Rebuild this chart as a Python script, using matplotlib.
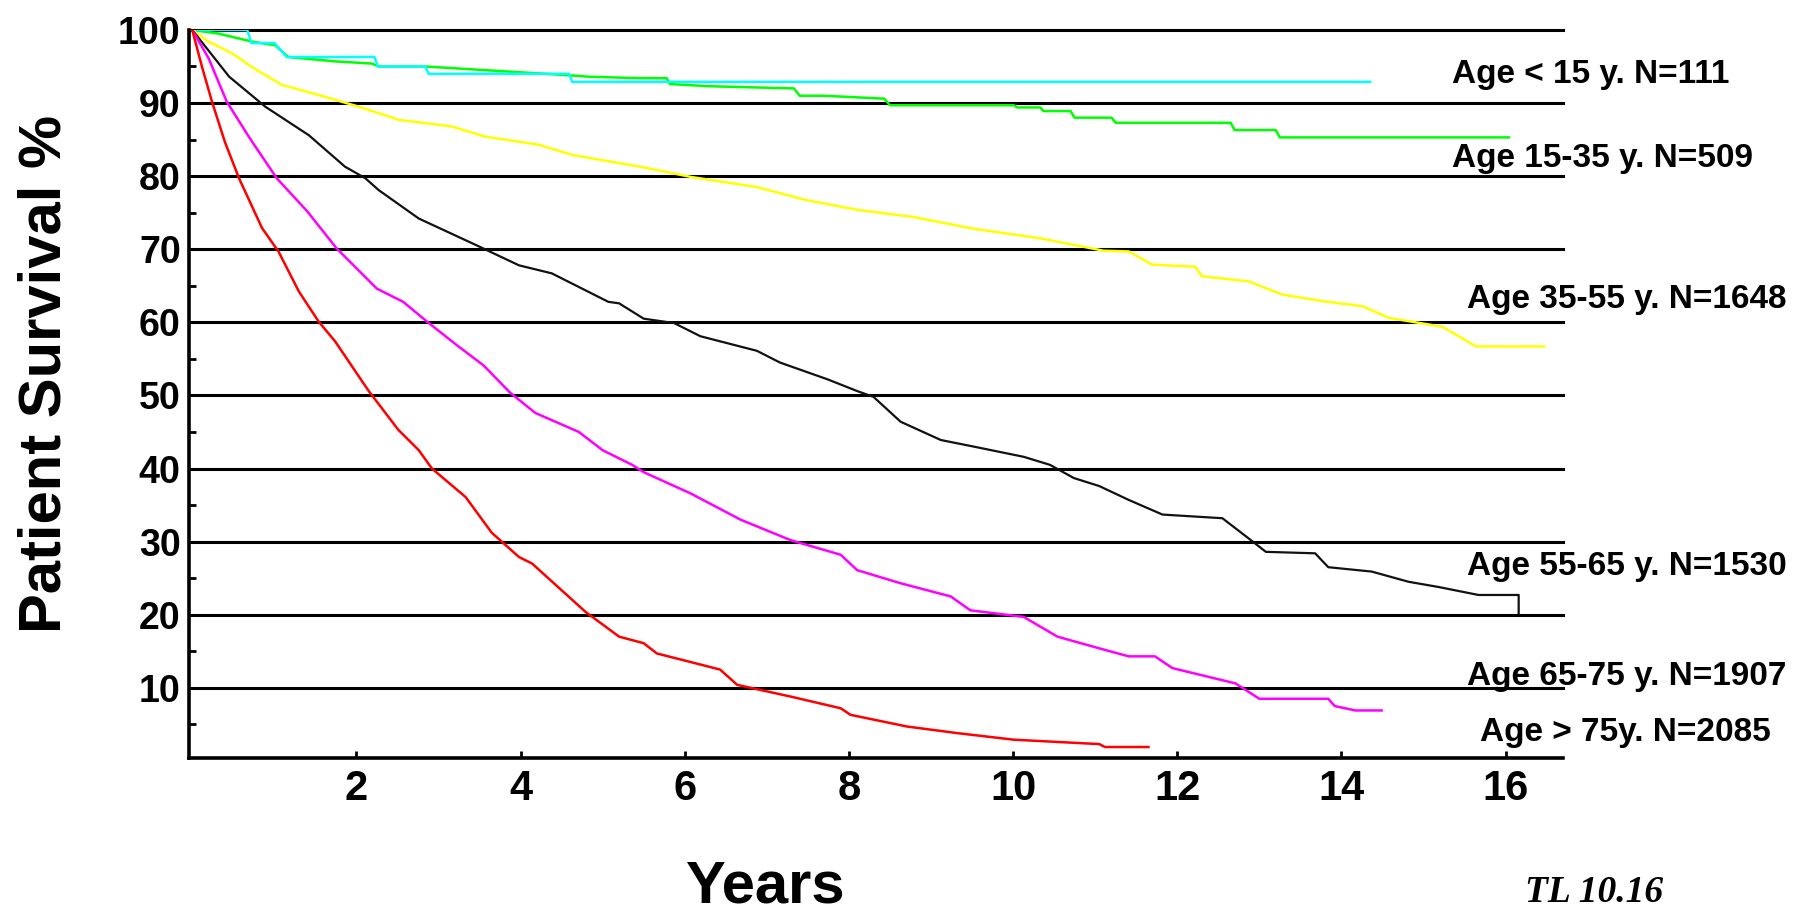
import matplotlib
matplotlib.use("Agg")
import matplotlib.pyplot as plt

# survival curves (years, % surviving)
cyan_t = [0, 0.67, 0.72, 1.0, 1.15, 2.22, 2.26, 2.84, 2.88, 4.59, 4.63, 14.35]
cyan_s = [100, 100, 98.2, 98.2, 96.3, 96.3, 95.0, 95.0, 94.0, 94.0, 92.9, 92.9]

green_t = [0, 0.32, 0.73, 1.01, 1.17, 1.74, 2.19, 2.27, 2.84, 3.57,
           4.59, 4.83, 5.46, 5.78, 5.82, 6.3, 7.33, 7.4, 7.69, 8.43,
           8.5, 10.01, 10.05, 10.33, 10.37, 10.7, 10.75, 11.2, 11.25, 12.65,
           12.7, 13.2, 13.25, 16.04]
green_s = [100, 99.5, 98.4, 97.9, 96.3, 95.7, 95.4, 95.0, 95.0, 94.5,
           93.8, 93.6, 93.4, 93.4, 92.6, 92.3, 92.0, 91.0, 91.0, 90.6,
           89.7, 89.7, 89.4, 89.4, 88.9, 88.9, 88.0, 88.0, 87.3, 87.3,
           86.3, 86.3, 85.3, 85.3]

yellow_t = [0, 0.2, 0.5, 0.73, 1.09, 1.54, 2.03, 2.52, 3.16, 3.57, 4.22,
            4.63, 5.5, 6.07, 6.88, 7.49, 8.1, 8.79, 9.52, 10.33, 11.1,
            11.41, 11.69, 12.22, 12.3, 12.87, 13.28, 13.77, 14.26, 14.58,
            15.23, 15.64, 16.47]
yellow_s = [100, 98.4, 96.7, 94.9, 92.5, 91.1, 89.5, 87.7, 86.8, 85.4, 84.3,
            82.9, 81.2, 79.9, 78.5, 76.7, 75.4, 74.4, 72.8, 71.5, 69.8,
            69.7, 67.9, 67.6, 66.3, 65.6, 63.8, 62.9, 62.2, 60.6,
            59.4, 56.7, 56.7]

black_t = [0, 0.45, 0.89, 1.42, 1.86, 2.11, 2.27, 2.76, 3.49, 3.98,
           4.38, 5.07, 5.2, 5.5, 5.87, 6.19, 6.88, 7.16, 7.74, 8.1,
           8.3, 8.63, 9.12, 9.52, 10.13, 10.45, 10.74, 11.05, 11.41, 11.82,
           12.55, 12.84, 13.08, 13.68, 13.84, 14.37, 14.82, 15.18, 15.67, 16.16,
           16.16]
black_s = [100, 93.6, 89.5, 85.6, 81.3, 79.7, 78.1, 74.2, 70.4, 67.8,
           66.7, 62.8, 62.6, 60.5, 59.9, 58.1, 56.1, 54.5, 52.2, 50.6,
           49.8, 46.4, 43.9, 43.0, 41.6, 40.5, 38.7, 37.6, 35.7, 33.7,
           33.2, 30.7, 28.6, 28.4, 26.5, 25.9, 24.5, 23.8, 22.7, 22.7,
           20.2]

magenta_t = [0, 0.2, 0.42, 0.7, 1.03, 1.4, 1.76, 2.25, 2.57, 2.86,
             3.22, 3.55, 3.87, 4.18, 4.71, 5.0, 5.36, 5.5, 6.07, 6.68,
             7.29, 7.9, 8.1, 8.63, 9.24, 9.48, 10.13, 10.54, 11.05, 11.41,
             11.73, 11.94, 12.71, 13.0, 13.84, 13.92, 14.17, 14.49]
magenta_s = [100, 96.1, 90.2, 85.2, 79.7, 75.2, 70.1, 64.6, 62.8, 60.1,
             56.9, 54.1, 50.4, 47.6, 45.0, 42.5, 40.5, 39.5, 36.6, 33.0,
             30.2, 28.2, 26.1, 24.3, 22.5, 20.6, 19.7, 17.0, 15.4, 14.3,
             14.3, 12.7, 10.6, 8.5, 8.5, 7.5, 6.9, 6.9]

red_t = [0, 0.12, 0.24, 0.4, 0.57, 0.85, 1.05, 1.3, 1.54, 1.74,
         2.15, 2.51, 2.76, 2.92, 3.33, 3.65, 3.98, 4.14, 4.79, 5.2,
         5.5, 5.66, 6.43, 6.64, 7.29, 7.9, 8.02, 8.71, 9.32, 10.01,
         11.05, 11.12, 11.65]
red_s = [100, 94.9, 90.2, 84.6, 79.7, 72.9, 69.7, 64.2, 60.1, 57.4,
         50.6, 45.3, 42.5, 40.0, 36.1, 31.2, 27.9, 27.0, 20.4, 17.0,
         16.1, 14.7, 12.5, 10.4, 8.8, 7.2, 6.3, 4.7, 3.8, 2.9,
         2.3, 1.9, 1.9]

group_labels = ["Age < 15 y. N=111", "Age 15-35 y. N=509", "Age 35-55 y. N=1648",
                "Age 55-65 y. N=1530", "Age 65-75 y. N=1907", "Age > 75y. N=2085"]
x_ticks = [2, 4, 6, 8, 10, 12, 14, 16]
y_ticks = [10, 20, 30, 40, 50, 60, 70, 80, 90, 100]

plt.rcParams['font.family'] = ['Liberation Sans', 'DejaVu Sans']
plt.rcParams['font.weight'] = 'bold'

fig = plt.figure(figsize=(17.98, 9.13), dpi=100)
ax = fig.add_axes([0.1051, 0.1698, 0.7642, 0.7974])

# horizontal grid lines, drawn unclipped so the 100 line is full width
for v in y_ticks:
    ax.axhline(v, color='black', lw=2.2, zorder=1, clip_on=False)

ax.plot(green_t, green_s, color='#00ff00', lw=1.8, zorder=3)
ax.plot(cyan_t, cyan_s, color='#00ffff', lw=1.8, zorder=3)
ax.plot(yellow_t, yellow_s, color='#ffff00', lw=1.8, zorder=3)
ax.plot(black_t, black_s, color='#111111', lw=1.6, zorder=3)
ax.plot(magenta_t, magenta_s, color='#ff00ff', lw=1.8, zorder=3)
ax.plot(red_t, red_s, color='#ff0000', lw=1.8, zorder=3)

ax.set_xlim(-0.04, 16.7)
ax.set_ylim(0.4, 100)

for side in ['top', 'right']:
    ax.spines[side].set_visible(False)
for side in ['left', 'bottom']:
    ax.spines[side].set_linewidth(2.6)
    ax.spines[side].set_color('black')

ax.set_xticks(x_ticks)
ax.set_xticklabels([str(t) for t in x_ticks], fontsize=30, fontweight='bold')
ax.set_yticks(y_ticks)
ax.set_yticklabels([str(t) for t in y_ticks], fontsize=27, fontweight='bold')
ax.set_yticks([5, 15, 25, 35, 45, 55, 65, 75, 85, 95], minor=True)
ax.tick_params(axis='x', direction='in', length=5, width=2, pad=8)
ax.tick_params(axis='y', which='major', length=0, pad=6)
ax.tick_params(axis='y', which='minor', direction='in', length=5, width=2)

fig.text(0.025, 0.59, "Patient Survival %", rotation=90, fontsize=43,
         fontweight='bold', ha='center', va='center')
fig.text(0.4255, 0.012, "Years", fontsize=43, fontweight='bold',
         ha='center', va='baseline')
fig.text(0.848, 0.012, "TL 10.16", fontsize=27, fontweight='bold',
         style='italic', family=['Liberation Serif', 'DejaVu Serif'],
         ha='left', va='baseline')

# group labels at the right edge
label_pos = [(0.8076, 0.9091), (0.8076, 0.8171), (0.8159, 0.6627),
             (0.8159, 0.3702), (0.8159, 0.2497), (0.8231, 0.1884)]
for txt, (lx, ly) in zip(group_labels, label_pos):
    fig.text(lx, ly, txt, fontsize=24, fontweight='bold', ha='left', va='baseline')

fig.savefig("out.png", dpi=100)
